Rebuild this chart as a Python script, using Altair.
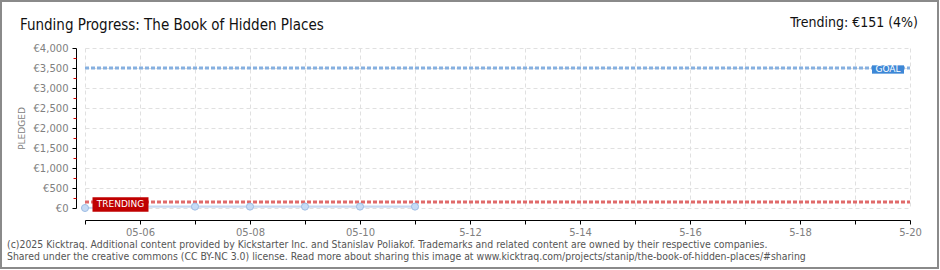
import altair as alt
import pandas as pd
from datetime import datetime, timezone

# ---------------- data ----------------
pledge_dates = ["2025-05-05", "2025-05-06", "2025-05-07", "2025-05-08",
                "2025-05-09", "2025-05-10", "2025-05-11"]
pledge_values = [0, 35, 35, 35, 35, 35, 35]
goal_value = 3500
trending_value = 151
x_start = "2025-05-05"
x_end = "2025-05-20"
y_ticks = [0, 500, 1000, 1500, 2000, 2500, 3000, 3500, 4000]
y_minor = [250, 750, 1250, 1750, 2250, 2750, 3250, 3750]
x_tick_labels = ["", "05-06", "", "05-08", "", "05-10", "", "5-12", "",
                 "5-14", "", "5-16", "", "5-18", "", "5-20"]
title_text = "Funding Progress: The Book of Hidden Places"
trend_text = "Trending: €151 (4%)"
footer_1 = ("(c)2025 Kicktraq. Additional content provided by Kickstarter Inc. and Stanislav Poliakof. "
            "Trademarks and related content are owned by their respective companies.")
footer_2 = ("Shared under the creative commons (CC BY-NC 3.0) license. Read more about sharing this image at "
            "www.kicktraq.com/projects/stanip/the-book-of-hidden-places/#sharing")


def ms(d):
    return int(datetime.strptime(d, "%Y-%m-%d").replace(tzinfo=timezone.utc).timestamp() * 1000)


DAY = 86400000
t0 = ms(x_start)
t1 = ms(x_end)
day_values = [t0 + i * DAY for i in range(len(x_tick_labels))]
label_js = "[" + ",".join("'%s'" % s for s in x_tick_labels) + "]"

W, H = 825, 160
AX_FONT = "DejaVu Sans"
TXT_FONT = "Liberation Sans Narrow, DejaVu Sans Condensed, sans-serif"

pledged = pd.DataFrame({"date": [ms(d) for d in pledge_dates], "value": pledge_values})

xscale = alt.Scale(type="utc", domain=[t0, t1], nice=False)
yscale = alt.Scale(domain=[0, 4000], nice=False, zero=True)

xaxis = alt.Axis(values=day_values, labelExpr=label_js + "[round((datum.value - %d)/%d)] || ''" % (t0, DAY),
                 offset=12, domainColor="black", tickColor="black", tickSize=4,
                 grid=True, gridDash=[4, 3], gridColor="#e0e0e0",
                 labelColor="#808080", labelFont=AX_FONT, labelFontSize=10, labelPadding=3,
                 title=None, labelOverlap=False, labelFlush=False)
yaxis = alt.Axis(values=y_ticks, labelExpr="'€' + format(datum.value, ',')",
                 offset=9, domainColor="black", tickColor="black", tickSize=4,
                 grid=True, gridDash=[4, 3], gridColor="#e0e0e0",
                 labelColor="#808080", labelFont=AX_FONT, labelFontSize=10, labelPadding=4,
                 labelOverlap=False, labelFlush=False,
                 title="PLEDGED", titleFont=AX_FONT, titleFontSize=9, titleFontWeight="normal",
                 titleColor="#808080", titleX=-55, titleY=80, titleAngle=270,
                 titleAlign="center", titleBaseline="middle")


def X(f):
    return alt.X(f, type="temporal", scale=xscale, axis=xaxis)


def Y(f):
    return alt.Y(f, type="quantitative", scale=yscale, axis=yaxis)


base = alt.Chart(pledged)

area = base.mark_area(color="#e6eef9", opacity=1).encode(x=X("date"), y=Y("value"))
line = base.mark_line(color="#c8daf2", strokeWidth=2).encode(x=X("date"), y=Y("value"))

ref = pd.DataFrame({"start": [t0, t0], "end": [t1, t1], "v": [goal_value, trending_value],
                    "kind": ["goal", "trend"]})
goal_rule = alt.Chart(ref[ref.kind == "goal"]).mark_rule(
    color="#86b0e0", strokeWidth=3, strokeDash=[4, 2]).encode(
    x=X("start"), x2="end:T", y=Y("v"))
trend_rule = alt.Chart(ref[ref.kind == "trend"]).mark_rule(
    color="#e06a6a", strokeWidth=3, strokeDash=[4, 2]).encode(
    x=X("start"), x2="end:T", y=Y("v"))

points = base.mark_point(filled=True, fill="#c6dbf5", stroke="#9fbde3", strokeWidth=1,
                         size=50, opacity=1).encode(x=X("date"), y=Y("value"))

BOX = "M-1,-0.26L1,-0.26L1,0.26L-1,0.26Z"
trend_lab = pd.DataFrame({"d": [t0], "v": [trending_value], "t": ["TRENDING"]})
trend_box = alt.Chart(trend_lab).mark_point(shape=BOX, size=56 * 56, filled=True, fill="#c00000",
                                            opacity=1, xOffset=35.5, yOffset=2.5, strokeWidth=0).encode(
    x=X("d"), y=Y("v"))
trend_txt = alt.Chart(trend_lab).mark_text(color="white", font=AX_FONT, fontSize=9,
                                           xOffset=35.5, yOffset=2).encode(
    x=X("d"), y=Y("v"), text="t:N")

goal_lab = pd.DataFrame({"d": [t1], "v": [goal_value], "t": ["GOAL"]})
goal_box = alt.Chart(goal_lab).mark_point(shape=BOX, size=32 * 32, filled=True, fill="#3d87d6",
                                          opacity=1, xOffset=-22, yOffset=1.5, strokeWidth=0).encode(
    x=X("d"), y=Y("v"))
goal_txt = alt.Chart(goal_lab).mark_text(color="white", font=AX_FONT, fontSize=9,
                                         xOffset=-22, yOffset=1).encode(
    x=X("d"), y=Y("v"), text="t:N")

txt = pd.DataFrame({"a": [0]})
title = alt.Chart(txt).mark_text(text=title_text, font=TXT_FONT, fontSize=15, align="left",
                                 baseline="alphabetic", color="#111").encode(
    x=alt.value(-65), y=alt.value(-18.5))
trend_head = alt.Chart(txt).mark_text(text=trend_text, font=TXT_FONT, fontSize=14, align="right",
                                      baseline="alphabetic", color="#111").encode(
    x=alt.value(833), y=alt.value(-21.5))
foot1 = alt.Chart(txt).mark_text(text=footer_1, font=TXT_FONT, fontSize=10.4, align="left",
                                 baseline="alphabetic", color="#555").encode(
    x=alt.value(-78), y=alt.value(200))
foot2 = alt.Chart(txt).mark_text(text=footer_2, font=TXT_FONT, fontSize=10.4, align="left",
                                 baseline="alphabetic", color="#555").encode(
    x=alt.value(-78), y=alt.value(211.5))
border = alt.Chart(txt).mark_rect(fillOpacity=0, stroke="#8a8a8a", strokeWidth=2).encode(
    x=alt.value(-84), x2=alt.value(853), y=alt.value(-47), y2=alt.value(220))

main = alt.layer(area, line, goal_rule, trend_rule, points, trend_box, trend_txt,
                 goal_box, goal_txt, title, trend_head, foot1, foot2, border)

minor = alt.Chart(pd.DataFrame({"v": [0]})).mark_point(opacity=0).encode(
    y=alt.Y("v:Q", scale=alt.Scale(domain=[0, 4000], nice=False),
            axis=alt.Axis(values=y_minor, labels=False, domain=False, grid=False,
                          tickColor="#e00000", tickSize=3, offset=9, title=None, orient="left")))

chart = alt.layer(main, minor).resolve_scale(y="independent").properties(
    width=W, height=H,
    autosize=alt.AutoSizeParams(type="none"),
    padding={"left": 85, "top": 48, "right": 30, "bottom": 62},
    background="white",
).configure_view(stroke=None).configure_axis(labelOverlap=False)

chart.save("out.html", embed_options={"renderer": "svg", "actions": False})
